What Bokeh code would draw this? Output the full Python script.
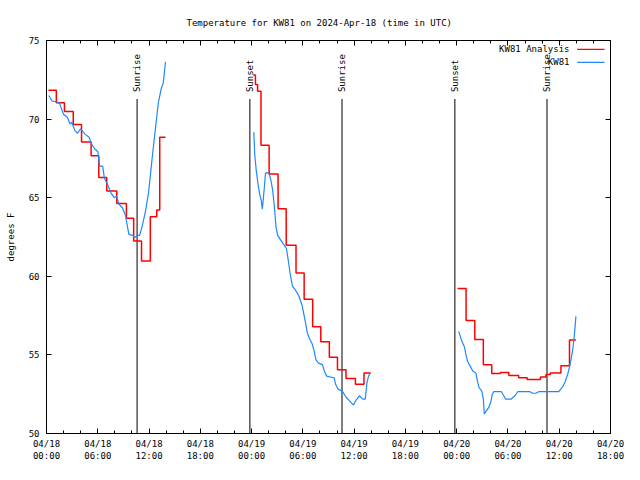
import math
from bokeh.plotting import figure
from bokeh.models import Range1d, FixedTicker, LinearAxis, Label, Arrow
from bokeh.core.properties import value
from bokeh.embed import file_html
from bokeh.resources import INLINE

# ---- data (hours since 2024-04-18 00:00 UTC, degrees F) ----
tick_hours = [0, 6, 12, 18, 24, 30, 36, 42, 48, 54, 60, 66]
tick_labels = ["04/18\n00:00", "04/18\n06:00", "04/18\n12:00", "04/18\n18:00",
               "04/19\n00:00", "04/19\n06:00", "04/19\n12:00", "04/19\n18:00",
               "04/20\n00:00", "04/20\n06:00", "04/20\n12:00", "04/20\n18:00"]
minor_hours = list(range(0, 67, 2))
y_ticks = [50, 55, 60, 65, 70, 75]

sun_t = [10.6, 23.8, 34.58, 47.79, 58.57]
sun_labels = ["Sunrise", "Sunset", "Sunrise", "Sunset", "Sunrise"]

red1_t = [0.23, 1.15, 2.1, 3.13, 4.1, 5.22, 6.12, 7.05, 8.22, 9.35, 10.2, 11.12, 12.15, 12.9, 13.25, 13.93]
red1_v = [71.83, 71.04, 70.48, 69.65, 68.54, 67.67, 66.29, 65.42, 64.63, 63.69, 62.25, 60.98, 63.79, 64.21, 68.85, 68.85]

red2_t = [24.2, 24.45, 24.7, 25.1, 26.05, 27.1, 28.05, 29.2, 30.15, 31.15, 32.1, 33.1, 34.05, 35.05, 36.15, 37.15, 37.94]
red2_v = [72.8, 72.2, 71.77, 68.33, 66.5, 64.3, 61.98, 60.21, 58.54, 56.79, 55.83, 54.85, 54.06, 53.5, 53.13, 53.85, 53.85]

red3_t = [48.1, 49.1, 50.12, 51.12, 52.1, 53.1, 54.1, 55.25, 56.25, 57.8, 58.45, 58.95, 60.2, 61.2, 61.95]
red3_v = [59.23, 57.19, 55.98, 54.38, 53.81, 53.88, 53.69, 53.54, 53.44, 53.6, 53.75, 53.85, 54.31, 55.94, 55.94]

blue1_t = [0.27, 0.65, 1.22, 1.53, 1.99, 2.45, 2.75, 2.95, 3.33, 3.63, 3.98, 4.48, 4.98, 5.24, 5.62, 6.01,
           6.2, 6.58, 6.77, 7.15, 7.54, 7.92, 8.19, 8.49, 8.87, 9.26, 9.45, 9.64, 10.1, 10.33, 10.6, 10.9,
           11.17, 11.56, 11.94, 12.32, 12.7, 13.09, 13.4, 13.66, 13.93]
blue1_v = [71.5, 71.15, 71.1, 71.0, 70.31, 70.1, 69.69, 69.8, 69.27, 69.1, 69.38, 69.06, 68.85, 68.44, 68.13, 67.92,
           67.04, 66.98, 66.25, 65.83, 65.31, 65.0, 65.1, 64.58, 64.38, 63.85, 63.23, 62.67, 62.6, 62.46, 62.6, 62.6,
           63.13, 64.06, 65.31, 67.29, 69.17, 71.04, 71.88, 72.29, 73.65]

blue2_t = [24.26, 24.37, 24.56, 24.76, 24.95, 25.14, 25.25, 25.33, 25.52, 25.63, 25.91, 26.09, 26.29, 26.48,
           26.67, 26.86, 27.05, 27.43, 27.81, 28.08, 28.31, 28.5, 28.78, 29.16, 29.54, 29.92, 30.11, 30.3, 30.5,
           30.76, 31.07, 31.34, 31.53, 31.83, 32.29, 32.52, 32.79, 33.36, 33.67, 33.83, 34.13, 34.59, 35.09,
           35.47, 35.93, 36.23, 36.62, 37.0, 37.3, 37.5, 37.69, 37.88]
blue2_v = [69.17, 67.71, 66.67, 65.83, 65.21, 64.79, 64.27, 64.69, 65.83, 66.56, 66.6, 66.46, 66.04, 65.42,
           64.38, 63.13, 62.6, 62.29, 61.98, 61.77, 60.94, 60.21, 59.38, 59.1, 58.75, 58.13, 57.6, 57.08, 56.46,
           56.04, 55.73, 55.21, 54.69, 54.48, 54.38, 53.96, 53.65, 53.58, 53.54, 53.13, 52.81, 52.71, 52.29,
           52.08, 51.81, 52.13, 52.4, 52.19, 52.19, 53.23, 53.65, 53.85]

blue3_t = [48.24, 48.44, 48.63, 48.9, 49.09, 49.28, 49.59, 49.9, 50.24, 50.43, 50.62, 50.93, 51.12, 51.23,
           51.5, 51.8, 52.0, 52.15, 52.34, 53.22, 53.41, 53.72, 54.37, 54.56, 54.83, 55.17, 56.51, 56.9, 57.28,
           57.65, 59.95, 60.15, 60.46, 60.72, 60.98, 61.22, 61.41, 61.6, 61.75, 61.87, 61.95]
blue3_v = [56.5, 56.15, 55.83, 55.52, 55.0, 54.58, 54.27, 53.96, 53.85, 53.33, 52.92, 52.71, 52.19, 51.25,
           51.46, 51.71, 52.02, 52.46, 52.67, 52.67, 52.5, 52.19, 52.19, 52.29, 52.4, 52.67, 52.67, 52.56, 52.56,
           52.67, 52.67, 52.81, 53.02, 53.33, 53.75, 54.27, 54.79, 55.42, 56.15, 56.88, 57.46]

series_names = ["KW81 Analysis", "KW81"]
RED = "#ff0000"
BLUE = "#1e88ff"
FONT = "DejaVu Sans Mono"
FS = "9px"

p = figure(width=624, height=464, output_backend="svg", toolbar_location=None,
           x_range=Range1d(0, 66), y_range=Range1d(50, 75),
           min_border_left=46, min_border_right=14, min_border_top=40, min_border_bottom=28)
p.grid.visible = False
p.outline_line_color = "black"
p.background_fill_color = "white"
p.border_fill_color = "white"

p.title.text = "Temperature for KW81 on 2024-Apr-18 (time in UTC)"
p.title.align = "left"
p.title.offset = 140
p.title.text_font = FONT
p.title.text_font_size = FS
p.title.text_font_style = "normal"
p.title.text_color = "black"
p.title.standoff = 26


def style_axis(ax, show_labels):
    ax.axis_line_color = "black"
    ax.major_tick_line_color = "black"
    ax.minor_tick_line_color = "black"
    ax.major_tick_in = 5
    ax.major_tick_out = 0
    ax.minor_tick_in = 3
    ax.minor_tick_out = 0
    ax.major_label_text_font = FONT
    ax.major_label_text_font_size = FS if show_labels else "0px"
    ax.major_label_text_color = "black"
    if not show_labels:
        ax.major_label_text_alpha = 0
        ax.major_label_standoff = 0


xt = FixedTicker(ticks=tick_hours, minor_ticks=minor_hours)
yt = FixedTicker(ticks=y_ticks, minor_ticks=[])

p.xaxis.ticker = xt
p.xaxis.major_label_overrides = {h: s for h, s in zip(tick_hours, tick_labels)}
style_axis(p.xaxis[0], True)
p.xaxis.major_label_standoff = 5
p.xaxis.major_label_text_line_height = 1.25

p.yaxis.ticker = yt
style_axis(p.yaxis[0], True)
p.yaxis.major_label_standoff = 7
p.yaxis.axis_label = "degrees F"
p.yaxis.axis_label_text_font = FONT
p.yaxis.axis_label_text_font_size = FS
p.yaxis.axis_label_text_font_style = "normal"
p.yaxis.axis_label_text_color = "black"
p.yaxis.axis_label_standoff = 10

top_ax = LinearAxis(ticker=FixedTicker(ticks=tick_hours, minor_ticks=minor_hours))
style_axis(top_ax, False)
p.add_layout(top_ax, "above")
right_ax = LinearAxis(ticker=FixedTicker(ticks=y_ticks, minor_ticks=[]))
style_axis(right_ax, False)
p.add_layout(right_ax, "right")

# sunrise / sunset markers
n = len(sun_t)
p.segment(x0=sun_t, y0=[50] * n, x1=sun_t, y1=[71.28] * n, line_color="black", line_width=1)
p.text(x=sun_t, y=[71.72] * n, text=sun_labels, angle=math.pi / 2,
       text_align="left", text_baseline="middle", text_font=value(FONT),
       text_font_size=FS, text_color="black")

# series
for t, v in [(red1_t, red1_v), (red2_t, red2_v), (red3_t, red3_v)]:
    p.step(t, v, mode="after", line_color=RED, line_width=1.5)
for t, v in [(blue1_t, blue1_v), (blue2_t, blue2_v), (blue3_t, blue3_v)]:
    p.line(t, v, line_color=BLUE, line_width=1.2)

# gnuplot-style key: text then sample line
for name, col, yy in [(series_names[0], RED, 74.43), (series_names[1], BLUE, 73.61)]:
    p.add_layout(Label(x=61.2, y=yy, text=name, text_align="right", text_baseline="middle",
                       text_font=FONT, text_font_size=FS, text_color="black"))
    p.add_layout(Arrow(x_start=62.1, y_start=yy, x_end=65.3, y_end=yy, start=None, end=None,
                       line_color=col, line_width=1.2))

open("out.html", "w").write(file_html(p, INLINE))
